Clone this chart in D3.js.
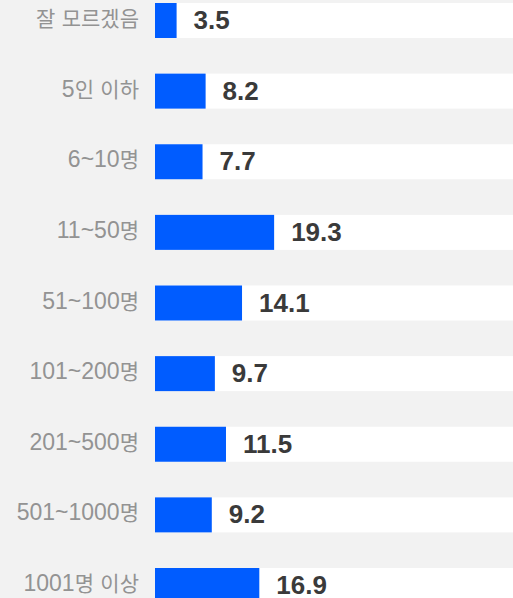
<!DOCTYPE html>
<html>
<head>
<meta charset="utf-8">
<script src="https://cdn.jsdelivr.net/npm/d3@7"></script>
<style>
    html, body { margin: 0; padding: 0; background: #f2f2f2; overflow: hidden; }
    svg { display: block; }
    .cat-label { font-family: 'Liberation Sans', 'Noto Sans CJK KR', sans-serif; font-size: 23px; fill: #939393; }
    .cat-label .hangul { font-family: 'Noto Sans CJK KR', sans-serif; font-size: 21px; }
    .val-label { font-family: 'Liberation Sans', sans-serif; font-size: 26px; font-weight: 700; fill: #3a3a3a; }
</style>
</head>
<body>
<svg id="chart"></svg>
<script>
'use strict';

const categories = ['잘 모르겠음', '5인 이하', '6~10명', '11~50명', '51~100명', '101~200명', '201~500명', '501~1000명', '1001명 이상'];
const values = [3.5, 8.2, 7.7, 19.3, 14.1, 9.7, 11.5, 9.2, 16.9];

const width = 513, height = 598;
const bar_left = 155, bar_h = 35;

const svg = d3.select('#chart').attr('width', width).attr('height', height);

const x = d3.scaleLinear().domain([0, 58]).range([bar_left, width]);
const y = d3.scalePoint().domain(categories).range([3, 568]);

const rows = svg.selectAll('g.row')
    .data(categories.map((c, i) => ({ c, v: values[i] })))
    .enter().append('g')
    .attr('class', 'row')
    .attr('transform', d => `translate(0, ${y(d.c)})`);

// white track behind each bar
rows.append('rect')
    .attr('x', bar_left)
    .attr('width', width - bar_left)
    .attr('height', bar_h)
    .attr('fill', '#fff');

rows.append('rect')
    .attr('x', bar_left)
    .attr('width', d => x(d.v) - bar_left)
    .attr('height', bar_h)
    .attr('fill', '#005cff');

// hangul runs get their own tspan so the CJK font can be sized down a bit
const cat_text = rows.append('text')
    .attr('class', 'cat-label')
    .attr('x', 139)
    .attr('y', bar_h / 2 + 5.5)
    .attr('text-anchor', 'end');

cat_text.selectAll('tspan')
    .data(d => d.c.match(/[\uAC00-\uD7A3]+|[^\uAC00-\uD7A3]+/g))
    .enter().append('tspan')
    .attr('class', s => /[\uAC00-\uD7A3]/.test(s) ? 'hangul' : null)
    .text(s => s);

rows.append('text')
    .attr('class', 'val-label')
    .attr('x', d => x(d.v) + 17)
    .attr('y', bar_h / 2 + 8.5)
    .text(d => d.v.toFixed(1));
</script>
</body>
</html>
